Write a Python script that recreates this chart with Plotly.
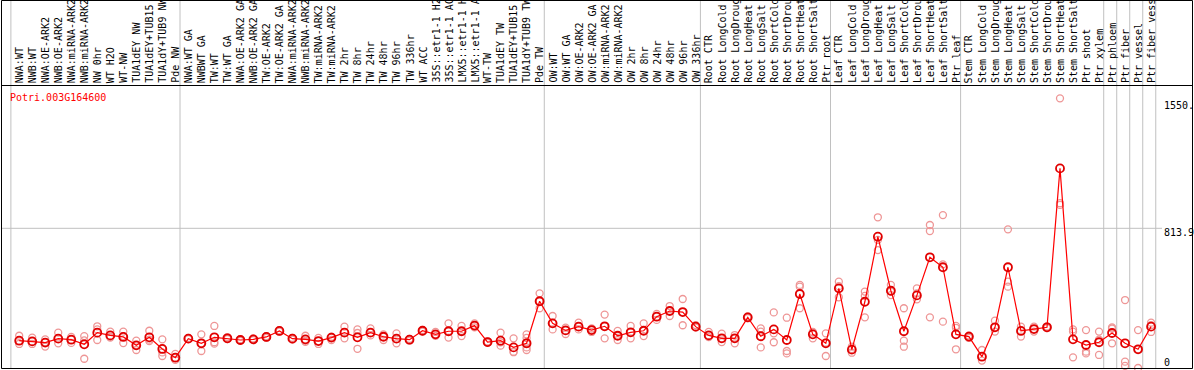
import plotly.graph_objects as go

# ---------------- data ----------------
categories = [
    "NWA:WT", "NWB:WT", "NWA:OE-ARK2", "NWB:OE-ARK2", "NWA:miRNA-ARK2", "NWB:miRNA-ARK2",
    "NW 0hr", "WT H2O", "WT-NW", "TUA1dEY NW", "TUA1dEY+TUB15 NW", "TUA1dY+TUB9 NW", "Pde NW",
    "NWA:WT GA", "NWBWT GA", "TW:WT", "TW:WT GA", "NWA:OE-ARK2 GA", "NWB:OE-ARK2 GA",
    "TW:OE-ARK2", "TW:OE-ARK2 GA", "NWA:miRNA-ARK2", "NWB:miRNA-ARK2", "TW:miRNA-ARK2",
    "TW:miRNA-ARK2", "TW 2hr", "TW 8hr", "TW 24hr", "TW 48hr", "TW 96hr", "TW 336hr", "WT ACC",
    "35S::etr1-1 H2O", "35S::etr1-1 ACC", "LMX5::etr1-1 H2O", "LMX5::etr1-1 ACC", "WT-TW",
    "TUA1dEY TW", "TUA1dEY+TUB15 TW", "TUA1dY+TUB9 TW", "Pde TW",
    "OW:WT", "OW:WT GA", "OW:OE-ARK2", "OW:OE-ARK2 GA", "OW:miRNA-ARK2", "OW:miRNA-ARK2",
    "OW 2hr", "OW 8hr", "OW 24hr", "OW 48hr", "OW 96hr", "OW 336hr",
    "Root CTR", "Root LongCold", "Root LongDrought", "Root LongHeat", "Root LongSalt",
    "Root ShortCold", "Root ShortDrought", "Root ShortHeat", "Root ShortSalt", "Ptr root",
    "Leaf CTR", "Leaf LongCold", "Leaf LongDrought", "Leaf LongHeat", "Leaf LongSalt",
    "Leaf ShortCold", "Leaf ShortDrought", "Leaf ShortHeat", "Leaf ShortSalt", "Ptr leaf",
    "Stem CTR", "Stem LongCold", "Stem LongDrought", "Stem LongHeat", "Stem LongSalt",
    "Stem ShortCold", "Stem ShortDrought", "Stem ShortHeat", "Stem ShortSalt", "Ptr shoot",
    "Ptr xylem", "Ptr phloem", "Ptr fiber", "Ptr vessel", "Ptr fiber vessel",
]

group_sizes = [13, 28, 12, 10, 10, 11, 1, 1, 1, 1]

mean_vals = [
    159, 155, 148, 171, 165, 138, 206, 190, 181, 132, 179, 111, 60,
    171, 144, 179, 173, 163, 167, 181, 216, 171, 167, 157, 177, 206, 179, 206, 182,
    171, 165, 217, 196, 214, 214, 247, 151, 159, 120, 144, 389,
    260, 219, 241, 221, 243, 188, 208, 217, 299, 332, 326, 241,
    190, 173, 173, 295, 185, 225, 163, 431, 196, 144,
    464, 107, 386, 765, 450, 214, 423, 645, 587, 196,
    183, 66, 237, 587, 216, 227, 237, 1163, 167, 134, 150,
    204, 144, 109, 241,
]

replicates = [
    [188, 159, 140], [177, 155, 140], [167, 150, 125], [206, 171, 144], [181, 165, 146],
    [186, 161, 54], [243, 225, 163], [212, 182, 177], [212, 186, 145], [159, 132, 105],
    [217, 165, 157], [167, 111, 91, 70], [82, 60, 47],
    [175, 171, 168], [196, 144, 99], [245, 150, 142], [180, 173, 168], [168, 163, 158],
    [172, 167, 162], [186, 181, 176], [220, 216, 212], [176, 171, 166], [188, 160, 153],
    [175, 157, 140], [182, 177, 163], [241, 208, 173], [225, 204, 112], [231, 206, 190],
    [196, 182, 163], [202, 171, 144], [170, 165, 160], [222, 217, 212], [210, 196, 188],
    [260, 214, 177], [245, 214, 186], [260, 247, 237], [155, 151, 147], [206, 150, 130],
    [173, 95, 92], [196, 175, 150, 120, 105], [435, 389, 348],
    [303, 260, 225], [235, 219, 198], [264, 241, 225], [230, 221, 210], [311, 243, 173],
    [216, 188, 163], [245, 208, 173], [260, 217, 186], [315, 299, 280], [361, 332, 303],
    [402, 326, 249], [250, 241, 235],
    [210, 190, 180], [200, 173, 151], [192, 173, 144], [300, 295, 290], [231, 212, 120],
    [324, 202, 150], [293, 99, 85], [484, 474, 348], [210, 206, 173], [202, 147, 70],
    [503, 477, 412], [124, 110, 89], [445, 420, 295], [878, 746, 687], [484, 445, 425],
    [348, 159, 124], [464, 435, 400], [833, 798, 295], [891, 604, 270], [245, 234, 109],
    [190, 183, 175], [105, 66, 43], [276, 237, 212], [808, 503, 474], [241, 216, 183],
    [241, 227, 212], [242, 237, 232], [1571, 960, 950], [225, 212, 62], [221, 95, 85],
    [212, 165, 76],
    [237, 230, 144], [396, 37, 12], [221, 109, 0], [264, 250, 210],
]

gene_id = "Potri.003G164600"
ytick_vals = [1550, 813.9, 0]
ytick_text = ["1550.", "813.9", "0"]
grid_vals = [813.9]

# ---------------- layout constants ----------------
W, H = 1194, 370
XMIN, XMAX = -0.476, 91.30
YMIN, YMAX = -11.65, 2144.0
MONO = "DejaVu Sans Mono"
GRID = "#c0c0c0"

def py(p):  # pixel row -> paper y
    return (H - p) / H

def px(p):  # pixel col -> paper x
    return p / W

xs = list(range(1, len(categories) + 1))

rep_x, rep_y = [], []
for xi, reps in zip(xs, replicates):
    for r in reps:
        rep_x.append(xi)
        rep_y.append(r)

fig = go.Figure()
fig.add_trace(go.Scatter(
    x=rep_x, y=rep_y, mode="markers",
    marker=dict(symbol="circle-open", size=7, color="rgb(238,150,150)",
                line=dict(width=1.3, color="rgb(238,150,150)")),
    hoverinfo="skip", showlegend=False,
))
fig.add_trace(go.Scatter(
    x=xs, y=mean_vals, mode="lines+markers",
    line=dict(color="#ff0000", width=1.2),
    marker=dict(symbol="circle-open", size=8, color="#e00000",
                line=dict(width=1.8, color="#e00000")),
    showlegend=False,
))

shapes = []
start = 1
bounds = []
for g in group_sizes:
    bounds.append(start)
    start += g
bounds.append(start)
for b in bounds:
    shapes.append(dict(type="line", xref="x", yref="paper", x0=b - 0.64, x1=b - 0.64,
                       y0=py(368), y1=1, line=dict(color=GRID, width=1), layer="below"))
for gv in grid_vals:
    shapes.append(dict(type="line", xref="paper", yref="y", x0=px(1.5), x1=px(1162),
                       y0=gv, y1=gv, line=dict(color=GRID, width=1), layer="below"))
shapes.append(dict(type="rect", xref="paper", yref="paper", x0=px(1.5), x1=px(1192.5),
                   y0=py(368.5), y1=py(0.5), line=dict(color="black", width=1)))
shapes.append(dict(type="line", xref="paper", yref="paper", x0=px(1.5), x1=px(1192.5),
                   y0=py(85.5), y1=py(85.5), line=dict(color="black", width=1)))

annotations = []
for xi, lab in zip(xs, categories):
    annotations.append(dict(x=xi, xref="x", y=py(84), yref="paper", text=lab,
                            textangle=-90, xanchor="center", yanchor="bottom",
                            showarrow=False, font=dict(family=MONO, size=10, color="black"),
                            borderpad=0))
annotations.append(dict(x=px(8), xref="paper", y=py(97), yref="paper", text=gene_id,
                        xanchor="left", yanchor="middle", showarrow=False,
                        font=dict(family=MONO, size=10, color="red")))
for v, t in zip(ytick_vals, ytick_text):
    annotations.append(dict(x=px(1162), xref="paper", y=v, yref="y", text=t,
                            xanchor="left", yanchor="middle", showarrow=False,
                            yshift=(-4 if v > 0 else 6),
                            font=dict(family=MONO, size=10, color="black")))

fig.update_layout(
    width=W, height=H, margin=dict(l=0, r=0, t=0, b=0),
    paper_bgcolor="white", plot_bgcolor="white",
    xaxis=dict(range=[XMIN, XMAX], visible=False, fixedrange=True),
    yaxis=dict(range=[YMIN, YMAX], visible=False, fixedrange=True),
    shapes=shapes, annotations=annotations,
)

fig.write_html("out.html", config={"displayModeBar": False},
               post_script="document.body.style.margin='0';document.body.style.overflow='hidden';")
